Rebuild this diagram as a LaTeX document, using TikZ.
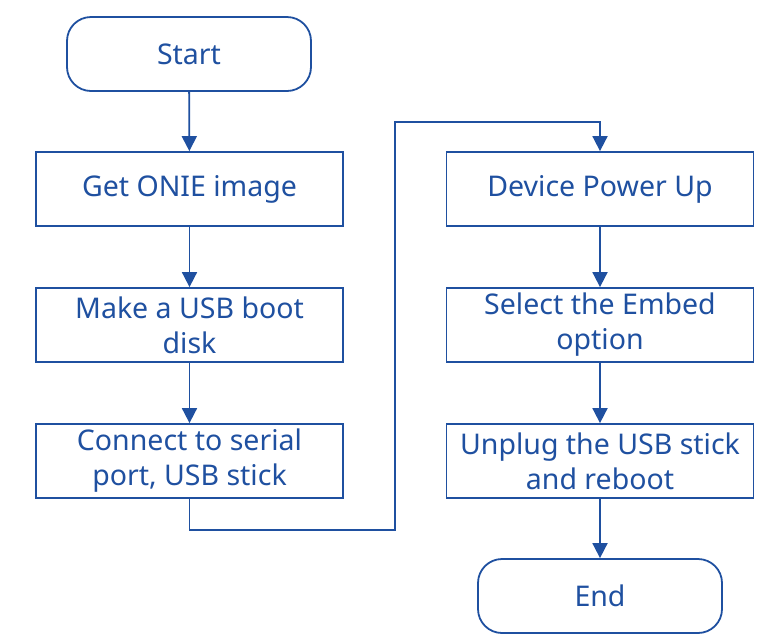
\documentclass[tikz,border=0pt]{standalone}
\usepackage{fontspec}
\setmainfont{Noto Sans}
\usetikzlibrary{arrows.meta}
\definecolor{flowblue}{RGB}{31,80,160}

\begin{document}
\begin{tikzpicture}[x=1pt, y=-1pt]
            \useasboundingbox (0, 0) rectangle (759, 638);
            {
                \tikzset{every node/.style = {draw=flowblue, line width=1.8pt, text=flowblue, align=center, inner sep=0pt,
                        font=\fontsize{28.5}{35}\selectfont}}
                \tikzset{box/.style = {rectangle, minimum width=307pt, minimum height=74pt}}
                \tikzset{term/.style = {rectangle, rounded corners=24pt, minimum width=244pt, minimum height=74pt}}

                \node[term] (start) at (189, 54) {Start};
                \node[box] (image) at (189.5, 189) {Get ONIE image};
                \node[box] (usb) at (189.5, 325) {Make a USB boot\\disk};
                \node[box] (connect) at (189.5, 461) {Connect to serial\\port, USB stick};

                \node[box] (power) at (600, 189) {Device Power Up};
                \node[box] (embed) at (600, 325) {Select the Embed\\option};
                \node[box] (unplug) at (600, 461) {Unplug the USB stick\\and reboot};
                \node[term] (end) at (600, 596) {End};
            }

            \tikzset{flow/.style = {draw=flowblue, line width=1.8pt, -{Triangle[length=15pt, width=15pt]}}}

            % straight arrows down each column
            \draw[flow] (start) -- (image);
            \draw[flow] (image) -- (usb);
            \draw[flow] (usb) -- (connect);
            \draw[flow] (power) -- (embed);
            \draw[flow] (embed) -- (unplug);
            \draw[flow] (unplug) -- (end);

            % route from the left column over to the right one
            \coordinate (low) at (395, 530);
            \coordinate (high) at (395, 122);
            \draw[flow] (connect.south) |- (low) -- (high) -| (power.north);

        \end{tikzpicture}
\end{document}
